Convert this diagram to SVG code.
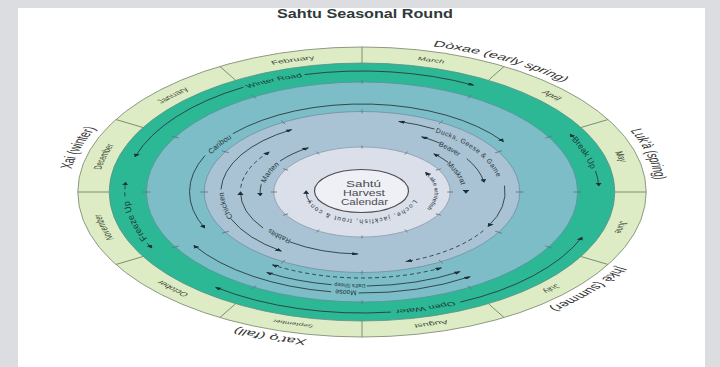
<svg xmlns="http://www.w3.org/2000/svg" width="720" height="367" viewBox="0 0 720 367">
<style>
.t{font-family:"Liberation Sans","DejaVu Sans",Arial,sans-serif;fill:#2f3a3a}
.mon{font-size:5.6px;fill:#3c4838}
.sea{font-size:8.5px;fill:#333}
.tl{fill:#1c3a32}
.lb{fill:#26353a}
.ln{fill:none;stroke:#2b3a40;stroke-width:0.9px;vector-effect:non-scaling-stroke}
.dash{stroke-dasharray:4 3}
.tk{fill:none;stroke:#5d7884;stroke-width:0.9px;vector-effect:non-scaling-stroke}
.dv{fill:none;stroke:#7e8e72;stroke-width:1px;vector-effect:non-scaling-stroke}
</style>
<defs>
<marker id="ah" viewBox="0 0 10 10" refX="8" refY="5" markerWidth="3.6" markerHeight="3.2" markerUnits="userSpaceOnUse" orient="auto-start-reverse" preserveAspectRatio="none"><path d="M0,0 L10,5 L0,10 z" fill="#1f2e33"/></marker>
<path id="c135" d="M-135,0 A135,135 0 1 1 135,0 A135,135 0 1 1 -135,0 A135,135 0 1 1 135,0 A135,135 0 1 1 -135,0"/>
<path id="c150" d="M-150,0 A150,150 0 1 1 150,0 A150,150 0 1 1 -150,0 A150,150 0 1 1 150,0 A150,150 0 1 1 -150,0"/>
<path id="c119" d="M-119,0 A119,119 0 1 1 119,0 A119,119 0 1 1 -119,0 A119,119 0 1 1 119,0 A119,119 0 1 1 -119,0"/>
<path id="p_dk" d="M435.22,132.22 A138.18,70.5 0 0 1 491.85,216.11"/>
<path id="p_bv" d="M438.22,145.66 A118.58,60.5 0 0 1 480.58,192"/>
<path id="p_ms" d="M446.31,164.60 A99.96,51 0 0 1 448.57,217.5"/>
<path id="p_ch" d="M233.0,217.27 A138.18,70.5 0 0 1 242.33,156.75"/>
<path id="p_rb" d="M291.0,239.21 A116.62,59.5 0 0 1 245.82,197.19"/>
<path id="p_mt" d="M265.49,183.32 A98,50 0 0 1 313,148.7"/>
<path id="p_cb" d="M211.38,154.52 A167.58,85.5 0 0 1 304.69,111.66"/>
<path id="p_ds" d="M411.70,280.44 A180.32,92 0 0 1 288.66,276.04"/>
<path id="p_mo" d="M411.97,287.14 A193.06,98.5 0 0 1 280.41,281.27"/>
<path id="p_wf" d="M427.18,175.78 A72.52,37 0 0 1 398.26,224.04"/>
<path id="p_fi" d="M413.81,199.58 A53.9,27.5 0 1 1 311.35,182.6"/>
<path id="p_bu" d="M571.64,139.83 A233.24,119 0 0 1 591.70,212.66"/>
<path id="p_fu" d="M147.30,238.49 A233.24,119 0 0 1 160.01,132.5"/>
</defs>

<rect width="720" height="367" fill="#dcdde1"/>
<rect x="18" y="8" width="687" height="359" fill="#ffffff"/>

<g id="rings">
<ellipse id="month-ring" cx="362" cy="192" rx="284.2" ry="145" fill="#ddecc4" stroke="#8d9a82" stroke-width="1"/>
<ellipse id="teal-ring" cx="362" cy="192" rx="252.8" ry="129" fill="#2cb795" stroke="#5f8f84" stroke-width="0.8"/>
<ellipse id="midblue-ring" cx="362" cy="192" rx="215.6" ry="110" fill="#7cbdc7" stroke="#5c8f98" stroke-width="0.8"/>
<ellipse id="light-ring" cx="362" cy="192" rx="157.8" ry="80.5" fill="#a9c3d4" stroke="#6e8fa0" stroke-width="0.8"/>
<ellipse id="white-ring" cx="362" cy="192" rx="88.2" ry="45" fill="#dadfe9" stroke="#8a9aa8" stroke-width="0.8"/>
</g>

<g id="polar" transform="translate(362,192) scale(1.96,1)">
<path class="dv" d="M129,0L145,0 M111.71,-64.5L125.57,-72.5 M64.5,-111.71L72.5,-125.57 M0,-129L0,-145 M-64.5,-111.71L-72.5,-125.57 M-111.71,-64.5L-125.57,-72.5 M-129,0L-145,0 M-111.71,64.5L-125.57,72.5 M-64.5,111.71L-72.5,125.57 M0,129L0,145 M64.5,111.71L72.5,125.57 M111.71,64.5L125.57,72.5"/>
<g id="ticks">
<path class="tk" d="M108,0L112,0 M93.53,-54L96.99,-56 M54,-93.53L56,-96.99 M0,-108L0,-112 M-54,-93.53L-56,-96.99 M-93.53,-54L-96.99,-56 M-108,0L-112,0 M-93.53,54L-96.99,56 M-54,93.53L-56,96.99 M0,108L0,112 M54,93.53L56,96.99 M93.53,54L96.99,56"/>
<path class="tk" d="M78.5,0L82.5,0 M67.98,-39.25L71.45,-41.25 M39.25,-67.98L41.25,-71.45 M0,-78.5L0,-82.5 M-39.25,-67.98L-41.25,-71.45 M-67.98,-39.25L-71.45,-41.25 M-78.5,0L-82.5,0 M-67.98,39.25L-71.45,41.25 M-39.25,67.98L-41.25,71.45 M0,78.5L0,82.5 M39.25,67.98L41.25,71.45 M67.98,39.25L71.45,41.25"/>
<path class="tk" d="M43.5,0L46.5,0 M37.67,-21.75L40.27,-23.25 M21.75,-37.67L23.25,-40.27 M0,-43.5L0,-46.5 M-21.75,-37.67L-23.25,-40.27 M-37.67,-21.75L-40.27,-23.25 M-43.5,0L-46.5,0 M-37.67,21.75L-40.27,23.25 M-21.75,37.67L-23.25,40.27 M0,43.5L0,46.5 M21.75,37.67L23.25,40.27 M37.67,21.75L40.27,23.25"/>
</g>

<g id="connectors">
<path class="ln" marker-start="url(#ah)" d="M-115.71,-35.38 A121,121 0 0 1 -60.5,-104.79"/>
<path class="ln" marker-end="url(#ah)" d="M-29.27,-117.41 A121,121 0 0 1 56.81,-106.83"/>
<path class="ln" marker-end="url(#ah)" d="M108.28,-53.99 A121,121 0 0 0 106.33,-57.74"/>
<path class="ln" marker-end="url(#ah)" d="M119.16,-21.01 A121,121 0 0 1 120.83,-6.33"/>
<path class="ln" marker-start="url(#ah)" d="M112.19,45.33 A121,121 0 0 1 50.18,110.11"/>
<path class="ln" marker-end="url(#ah)" d="M14.75,120.09 A121,121 0 0 1 -74.50,95.35"/>
<path class="ln" marker-end="url(#ah)" d="M-109.66,51.13 A121,121 0 0 0 -107.33,55.87"/>
<path class="ln dash" marker-end="url(#ah)" d="M-120.93,4.22 A121,121 0 0 1 -120.63,-9.50"/>

<path class="ln" marker-start="url(#ah)" d="M18.89,-70.51 A73,73 0 0 1 37.05,-62.90"/>
<path class="ln" marker-end="url(#ah)" d="M72.72,-6.37 A73,73 0 0 1 64.45,34.27"/>
<path class="ln dash" marker-end="url(#ah)" d="M61.90,38.68 A73,73 0 0 1 22.56,69.43"/>
<path class="ln" marker-start="url(#ah)" d="M30.54,-55.10 A63,63 0 0 1 39.65,-48.96"/>
<path class="ln" marker-end="url(#ah)" d="M53.42,-33.38 A63,63 0 0 1 62.23,-9.86"/>
<path class="ln" marker-start="url(#ah)" d="M36.82,-38.12 A53,53 0 0 1 43.94,-29.64"/>
<path class="ln" marker-end="url(#ah)" d="M52.97,-1.85 A53,53 0 0 1 52.99,0.92"/>
<path class="ln" marker-start="url(#ah)" d="M-41.30,58.98 A72,72 0 0 1 -66.76,26.97"/>
<path class="ln" marker-end="url(#ah)" d="M-71.96,-2.51 A72,72 0 0 1 -36,-62.35"/>
<path class="ln" marker-start="url(#ah)" d="M-2.16,61.96 A62,62 0 0 1 -36.88,49.84"/>
<path class="ln" marker-end="url(#ah)" d="M-50.47,36.00 A62,62 0 0 1 -62,0"/>
<path class="ln dash" marker-end="url(#ah)" d="M-61.85,-4.33 A62,62 0 0 1 -47.49,-39.85"/>
<path class="ln" marker-start="url(#ah)" d="M-51.88,3.63 A52,52 0 0 1 -51.43,-7.69"/>
<path class="ln" marker-end="url(#ah)" d="M-41.80,-30.93 A52,52 0 0 1 -27.55,-44.10"/>

<path class="ln" marker-start="url(#ah)" d="M-80.39,35.79 A88,88 0 0 1 -80.08,-36.49"/>
<path class="ln" marker-end="url(#ah)" d="M-65.91,-58.31 A88,88 0 0 1 72.09,-50.48"/>
<path class="ln dash" marker-start="url(#ah)" marker-end="url(#ah)" d="M40.38,75.93 A86,86 0 0 1 -45.57,72.93"/>
<path class="ln" marker-start="url(#ah)" d="M49.81,79.71 A94,94 0 0 1 2.46,93.97"/>
<path class="ln" marker-end="url(#ah)" d="M-15.51,92.71 A94,94 0 0 1 -48.41,80.58"/>
<path class="ln" marker-start="url(#ah)" d="M55.00,84.71 A101,101 0 0 1 -1.76,100.98"/>
<path class="ln" marker-end="url(#ah)" d="M-15.80,99.76 A101,101 0 0 1 -85.65,53.52"/>

<path class="ln" marker-end="url(#ah)" d="M33.55,-17.84 A38,38 0 0 0 32.57,-19.57"/>
<path class="ln" marker-end="url(#ah)" d="M-26.23,11.14 A28.5,28.5 0 0 1 -28.48,-0.99"/>
</g>

<g id="months" class="t mon" text-anchor="middle">
<text><textPath href="#c135" startOffset="56.25%">January</textPath></text>
<text><textPath href="#c135" startOffset="60.417%">February</textPath></text>
<text font-size="5"><textPath href="#c135" startOffset="64.583%">March</textPath></text>
<text><textPath href="#c135" startOffset="68.75%">April</textPath></text>
<text><textPath href="#c135" startOffset="72.917%">May</textPath></text>
<text><textPath href="#c135" startOffset="27.083%">June</textPath></text>
<text><textPath href="#c135" startOffset="31.25%">July</textPath></text>
<text><textPath href="#c135" startOffset="35.417%">August</textPath></text>
<text font-size="4.3"><textPath href="#c135" startOffset="39.583%">September</textPath></text>
<text><textPath href="#c135" startOffset="43.75%">October</textPath></text>
<text><textPath href="#c135" startOffset="47.917%">November</textPath></text>
<text><textPath href="#c135" startOffset="52.083%">December</textPath></text>
</g>

<g id="seasons" class="t sea" text-anchor="middle">
<text><textPath href="#c150" startOffset="66.458%">Dòxae (early spring)</textPath></text>
<text><textPath href="#c150" startOffset="72.986%">Luk'à (spring)</textPath></text>
<text><textPath href="#c150" startOffset="30.556%">Įhkè (summer)</textPath></text>
<text><textPath href="#c150" startOffset="40%">Xat'ǫ (fall)</textPath></text>
<text><textPath href="#c150" startOffset="52.361%">Xai (winter)</textPath></text>
</g>

<g id="teal-labels" class="t tl" text-anchor="middle">
<text font-size="5.4"><textPath href="#c119" startOffset="59.444%">Winter Road</textPath></text>
<text font-size="5.8"><textPath href="#c119" startOffset="35.319%">Open Water</textPath></text>
</g>
</g>

<g id="side-labels" class="t tl">
<text font-size="8.5"><textPath href="#p_bu">Break Up</textPath></text>
<text font-size="9"><textPath href="#p_fu">Freeze Up</textPath></text>
</g>

<g id="harvest-labels" class="t lb">
<text font-size="6.8" letter-spacing="0.5"><textPath href="#p_dk">Ducks, Geese &amp; Game</textPath></text>
<text font-size="7.2"><textPath href="#p_bv">Beaver</textPath></text>
<text font-size="7.2"><textPath href="#p_ms">Muskrat</textPath></text>
<text font-size="7.5"><textPath href="#p_ch">Chicken</textPath></text>
<text font-size="7"><textPath href="#p_rb">Rabbits</textPath></text>
<text font-size="7.5"><textPath href="#p_mt">Marten</textPath></text>
<text font-size="7.5"><textPath href="#p_cb">Caribou</textPath></text>
<text font-size="5.5" text-anchor="middle"><textPath href="#p_ds" startOffset="50%">Dall's Sheep</textPath></text>
<text font-size="7" text-anchor="middle"><textPath href="#p_mo" startOffset="50%">Moose</textPath></text>
<text font-size="5.8"><textPath href="#p_wf">Lake whitefish</textPath></text>
<text font-size="6.5" letter-spacing="1.2"><textPath href="#p_fi">Loche, jackfish, trout &amp; cony</textPath></text>
</g>

<g id="center">
<ellipse cx="361.5" cy="191" rx="47" ry="21.5" fill="#eef0f5" stroke="#4d4f55" stroke-width="1.2"/>
<g class="t" text-anchor="middle" font-size="9.3">
<text x="363.5" y="186.7" textLength="35" lengthAdjust="spacingAndGlyphs" fill="#4a4c52">Sahtú</text>
<text x="364" y="196" textLength="42" lengthAdjust="spacingAndGlyphs" fill="#4a4c52">Harvest</text>
<text x="364.5" y="205.2" textLength="47" lengthAdjust="spacingAndGlyphs" fill="#4a4c52">Calendar</text>
</g>
</g>

<g id="title">
<text class="t" x="365" y="18.3" text-anchor="middle" font-size="13.5" font-weight="bold" textLength="176" lengthAdjust="spacingAndGlyphs" fill="#3a3a3a">Sahtu Seasonal Round</text>
</g>
</svg>
